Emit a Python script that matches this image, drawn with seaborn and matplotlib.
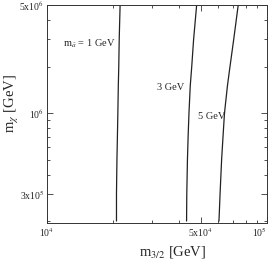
import numpy as np
import pandas as pd
import matplotlib
matplotlib.use("Agg")
import matplotlib.pyplot as plt
import matplotlib.ticker as mticker
import seaborn as sns

# data
m_chi = [2.0e5, 3.0e5, 5.0e5, 7.0e5, 1.0e6, 1.5e6, 2.0e6, 3.0e6, 5.0e6]
m32_1gev = [2.07e4, 2.07e4, 2.08e4, 2.09e4, 2.10e4, 2.11e4, 2.12e4, 2.13e4, 2.15e4]
m32_3gev = [4.31e4, 4.32e4, 4.35e4, 4.38e4, 4.42e4, 4.48e4, 4.55e4, 4.64e4, 4.79e4]
m32_5gev = [6.05e4, 6.12e4, 6.22e4, 6.31e4, 6.41e4, 6.61e4, 6.79e4, 7.06e4, 7.40e4]
series_names = ["1 GeV", "3 GeV", "5 GeV"]
x_ticks = [1e4, 5e4, 1e5]
x_ticklabels = ["10$^4$", "5x10$^4$", "10$^5$"]
y_ticks = [3e5, 1e6, 5e6]
y_ticklabels = ["3x10$^5$", "10$^6$", "5x10$^6$"]

sns.set_style("ticks")
plt.rcParams["font.family"] = ["Liberation Serif", "DejaVu Serif"]
plt.rcParams["mathtext.fontset"] = "stix"

rows = []
for name, xs in zip(series_names, [m32_1gev, m32_3gev, m32_5gev]):
    for x, y in zip(xs, m_chi):
        rows.append({"m32": x, "mchi": y, "s": name})
df = pd.DataFrame(rows)

fig = plt.figure(figsize=(2.73, 2.64), dpi=100)
ax = fig.add_axes([0.172, 0.155, 0.806, 0.826])
sns.lineplot(data=df, x="m32", y="mchi", hue="s", units="s", estimator=None,
             sort=False, palette=["#222222"] * 3, linewidth=0.9, legend=False, ax=ax)
ax.set_xscale("log")
ax.set_yscale("log")
ax.set_xlim(1e4, 1e5)
ax.set_ylim(1.94e5, 5e6)

ax.xaxis.set_major_locator(mticker.FixedLocator(x_ticks))
ax.xaxis.set_major_formatter(mticker.FixedFormatter(x_ticklabels))
ax.yaxis.set_major_locator(mticker.FixedLocator(y_ticks))
ax.yaxis.set_major_formatter(mticker.FixedFormatter(y_ticklabels))
ax.xaxis.set_minor_locator(mticker.LogLocator(base=10, subs=np.arange(1, 10)))
ax.yaxis.set_minor_locator(mticker.LogLocator(base=10, subs=np.arange(1, 10)))
ax.xaxis.set_minor_formatter(mticker.NullFormatter())
ax.yaxis.set_minor_formatter(mticker.NullFormatter())
ax.tick_params(which="both", direction="in", top=True, right=True, labelsize=7,
               color="#333333", width=0.6, pad=2)
ax.tick_params(which="major", length=4.5)
ax.tick_params(which="minor", length=2.5)
for sp in ax.spines.values():
    sp.set_visible(True)
    sp.set_linewidth(0.7)
    sp.set_color("#333333")

ax.set_xlabel("m$_{3/2}$ [GeV]", fontsize=10.5)
ax.set_ylabel("m$_{\\chi}$ [GeV]", fontsize=10.5)
ax.xaxis.set_label_coords(0.57, -0.095)
ax.yaxis.set_label_coords(-0.12, 0.55)
# keep the rightmost x tick label inside the figure
ax.get_xticklabels()[-1].set_horizontalalignment("right")
ax.get_xticklabels()[-1].set_x(1e5)

ax.text(2.05e4, 2.8e6, "m$_{\\tilde{a}}$ = 1 GeV", fontsize=7.5, ha="right", va="center")
ax.text(4.22e4, 1.46e6, "3 GeV", fontsize=7.5, ha="right", va="center")
ax.text(6.5e4, 9.5e5, "5 GeV", fontsize=7.5, ha="right", va="center")

fig.savefig("out.png", dpi=100)
